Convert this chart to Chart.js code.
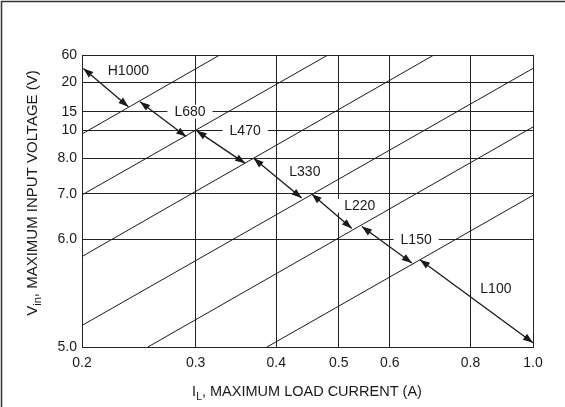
<!DOCTYPE html>
<html>
<head>
<meta charset="utf-8">
<script src="https://cdn.jsdelivr.net/npm/chart.js@4.4.1/dist/chart.umd.min.js"></script>
<style>
  html, body { margin: 0; padding: 0; background: #fff; }
  canvas { display: block; }
</style>
</head>
<body>
<canvas id="chart" width="565" height="407"></canvas>
<script>
// axis ticks
const xTicks = [0.2, 0.3, 0.4, 0.5, 0.6, 0.8, 1.0];
const xTickLabels = ['0.2', '0.3', '0.4', '0.5', '0.6', '0.8', '1.0'];
const yTicks = [5, 6, 7, 8, 10, 15, 20, 60];
const yTickLabels = ['5.0', '6.0', '7.0', '8.0', '10', '15', '20', '60'];
// where each y tick sits on the (hand drawn) voltage scale, 0 = bottom, 1 = top
const yTickPos = [0, 0.369, 0.524, 0.646, 0.741, 0.806, 0.906, 1];

// boundary lines between inductor regions (I in A, V in V)
const boundaryStartI = [0.2, 0.2, 0.2, 0.2, 0.253, 0.387];
const boundaryStartV = [9.76, 6.98, 5.84, 5.20, 5.0, 5.0];
const boundaryEndI = [0.327, 0.481, 0.702, 1.0, 1.0, 1.0];
const boundaryEndV = [60, 60, 60, 40.5, 10.97, 6.97];

// arrows + labels for each inductor
const inductors = ['H1000', 'L680', 'L470', 'L330', 'L220', 'L150', 'L100'];
const arrowStartI = [0.201, 0.246, 0.301, 0.369, 0.454, 0.543, 0.668];
const arrowStartV = [40.5, 16.7, 10.0, 8.0, 7.0, 6.28, 5.81];
const arrowEndI = [0.236, 0.290, 0.358, 0.438, 0.524, 0.649, 1.0];
const arrowEndV = [15.85, 9.57, 7.86, 6.91, 6.24, 5.78, 5.04];
const labelI = [0.236, 0.294, 0.358, 0.443, 0.539, 0.659, 0.876];
const labelV = [37, 15, 10, 7.63, 6.74, 6.0, 5.54];

const FONT = "'Liberation Sans', Arial, Helvetica, sans-serif";
const INK = '#1a1a1a';

// volts -> position on the y scale
function toU(v) {
  for (let i = 0; i < yTicks.length - 1; i++) {
    if (v <= yTicks[i + 1] || i === yTicks.length - 2) {
      const t = (v - yTicks[i]) / (yTicks[i + 1] - yTicks[i]);
      return yTickPos[i] + t * (yTickPos[i + 1] - yTickPos[i]);
    }
  }
  return 0;
}

const datasets = [];
boundaryStartI.forEach((_, i) => {
  datasets.push({
    data: [
      { x: boundaryStartI[i], y: toU(boundaryStartV[i]) },
      { x: boundaryEndI[i], y: toU(boundaryEndV[i]) }
    ],
    borderColor: INK,
    borderWidth: 1,
    showLine: true,
    pointRadius: 0
  });
});
inductors.forEach((_, i) => {
  datasets.push({
    arrow: true,
    data: [
      { x: arrowStartI[i], y: toU(arrowStartV[i]) },
      { x: arrowEndI[i], y: toU(arrowEndV[i]) }
    ],
    borderColor: INK,
    borderWidth: 1.3,
    showLine: true,
    pointRadius: 0,
    clip: false
  });
});

function head(ctx, tip, from) {
  const a = Math.atan2(tip.y - from.y, tip.x - from.x);
  const L = 10, W = 3.6;
  const bx = tip.x - L * Math.cos(a), by = tip.y - L * Math.sin(a);
  ctx.beginPath();
  ctx.moveTo(tip.x, tip.y);
  ctx.lineTo(bx + W * Math.sin(a), by - W * Math.cos(a));
  ctx.lineTo(bx - W * Math.sin(a), by + W * Math.cos(a));
  ctx.closePath();
  ctx.fill();
}

const decorations = {
  id: 'decorations',
  beforeDraw(chart) {
    const ctx = chart.ctx;
    ctx.save();
    ctx.fillStyle = '#fff';
    ctx.fillRect(0, 0, chart.width, chart.height);
    ctx.strokeStyle = '#333';
    ctx.lineWidth = 1.5;
    ctx.beginPath();
    ctx.moveTo(1.5, chart.height);
    ctx.lineTo(1.5, 1.5);
    ctx.lineTo(chart.width, 1.5);
    ctx.stroke();
    ctx.restore();
  },
  afterDatasetsDraw(chart) {
    const ctx = chart.ctx;
    ctx.save();
    ctx.fillStyle = INK;
    chart.data.datasets.forEach((ds, i) => {
      if (!ds.arrow) return;
      const pts = chart.getDatasetMeta(i).data;
      head(ctx, pts[0], pts[1]);
      head(ctx, pts[1], pts[0]);
    });
    ctx.font = '14px ' + FONT;
    ctx.textAlign = 'center';
    ctx.textBaseline = 'middle';
    const xs = chart.scales.x, ys = chart.scales.y;
    inductors.forEach((name, i) => {
      const px = xs.getPixelForValue(labelI[i]);
      const py = ys.getPixelForValue(toU(labelV[i]));
      const w = ctx.measureText(name).width + 14;
      ctx.fillStyle = '#fff';
      ctx.fillRect(px - w / 2, py - 7, w, 14);
      ctx.fillStyle = INK;
      ctx.fillText(name, px, py + 0.5);
    });
    ctx.restore();
  },
  afterDraw(chart) {
    const ctx = chart.ctx;
    const big = '14.5px ' + FONT, small = '10.5px ' + FONT;
    ctx.save();
    ctx.fillStyle = INK;
    ctx.textBaseline = 'alphabetic';
    ctx.textAlign = 'left';

    // x axis title: I_L, MAXIMUM LOAD CURRENT (A)
    ctx.font = big;
    let w1 = ctx.measureText('I').width;
    let w3 = ctx.measureText(', MAXIMUM LOAD CURRENT (A)').width;
    ctx.font = small;
    let w2 = ctx.measureText('L').width;
    let x0 = 307 - (w1 + w2 + w3) / 2, base = 396;
    ctx.font = big; ctx.fillText('I', x0, base);
    ctx.font = small; ctx.fillText('L', x0 + w1, base + 4);
    ctx.font = big; ctx.fillText(', MAXIMUM LOAD CURRENT (A)', x0 + w1 + w2, base);

    // y axis title: V_in, MAXIMUM INPUT VOLTAGE (V)
    ctx.translate(37, 193);
    ctx.rotate(-Math.PI / 2);
    ctx.font = '15px ' + FONT;
    w1 = ctx.measureText('V').width;
    w3 = ctx.measureText(', MAXIMUM INPUT VOLTAGE (V)').width;
    ctx.font = '11px ' + FONT;
    w2 = ctx.measureText('in').width;
    x0 = -(w1 + w2 + w3) / 2;
    ctx.font = '15px ' + FONT; ctx.fillText('V', x0, 0);
    ctx.font = '11px ' + FONT; ctx.fillText('in', x0 + w1, 4);
    ctx.font = '15px ' + FONT; ctx.fillText(', MAXIMUM INPUT VOLTAGE (V)', x0 + w1 + w2, 0);
    ctx.restore();
  }
};

new Chart(document.getElementById('chart'), {
  type: 'scatter',
  data: { datasets: datasets },
  options: {
    responsive: false,
    animation: false,
    devicePixelRatio: 1,
    layout: { padding: { left: 0, top: 55, right: 32, bottom: 0 } },
    plugins: { legend: { display: false }, tooltip: { enabled: false } },
    scales: {
      x: {
        type: 'logarithmic',
        min: 0.2,
        max: 1.0,
        afterBuildTicks: s => { s.ticks = xTicks.map(v => ({ value: v })); },
        afterFit: s => { s.height = 60; },
        ticks: {
          autoSkip: false,
          maxRotation: 0,
          padding: 8,
          color: INK,
          font: { family: FONT, size: 14 },
          callback: (v, i) => xTickLabels[i]
        },
        grid: { color: '#222', lineWidth: 1, drawTicks: false },
        border: { color: '#222', width: 1 }
      },
      y: {
        type: 'linear',
        min: 0,
        max: 1,
        afterBuildTicks: s => { s.ticks = yTicks.map(v => ({ value: toU(v) })); },
        afterFit: s => { s.width = 82; },
        ticks: {
          autoSkip: false,
          padding: 5,
          color: INK,
          font: { family: FONT, size: 14 },
          callback: (v, i) => yTickLabels[i]
        },
        grid: { color: '#222', lineWidth: 1, drawTicks: false },
        border: { color: '#222', width: 1 }
      }
    }
  },
  plugins: [decorations]
});
</script>
</body>
</html>
